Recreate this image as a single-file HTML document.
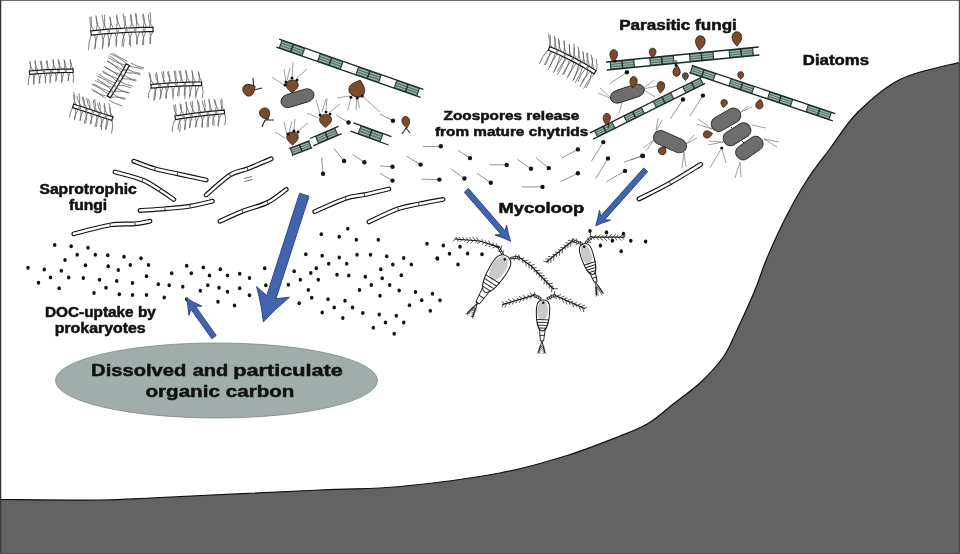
<!DOCTYPE html>
<html><head><meta charset="utf-8"><style>
html,body{margin:0;padding:0;background:#fff;}
svg{display:block;}
text{font-family:"Liberation Sans",sans-serif;font-weight:bold;fill:#111;stroke:#111;stroke-width:0.5px;}
</style></head><body>
<svg width="960" height="554" viewBox="0 0 960 554">
<rect x="0" y="0" width="960" height="554" fill="#fff"/>
<path d="M90.1,30.9 Q92.3,23.7 91.1,16.3 M93.8,30.5 Q89.1,24.5 89.6,17 M96.6,30.2 Q98.3,22.7 95.9,15.4 M100.7,29.8 Q95.9,24.5 95.9,17.2 M103.4,29.6 Q105.3,22.2 104.6,14.6 M106.4,29.3 Q102.3,22.6 102.1,14.8 M109.9,29 Q111.7,23.1 110,17 M113.5,28.8 Q110,23.2 109.8,16.6 M116.5,28.6 Q118,22.1 116.7,15.7 M120.6,28.3 Q117,22 116.6,14.8 M124.1,28.1 Q126.4,22.1 124.9,15.8 M127.1,28 Q123.1,21.2 123,13.3 M130.5,27.8 Q133.1,21.5 131,14.9 M133.9,27.7 Q129.9,21.7 130.5,14.4 M136.1,27.6 Q138,20.2 135.8,12.9 M139.6,27.5 Q135.1,21.4 135.5,13.8 M143.1,27.4 Q145.9,20.6 143.3,13.7 M146.6,27.4 Q143.2,21.3 142.4,14.4 M149.3,27.3 Q152.1,19.8 150,12 M153.1,27.3 Q147.9,21.9 148.5,14.4 M91.4,35.2 Q88.3,42.1 88.5,49.8 M94.6,34.8 Q96.9,41.7 94.9,48.8 M97.7,34.5 Q94.9,41.7 94.7,49.5 M101.8,34.1 Q104.7,41.5 102.4,49.1 M105.2,33.8 Q101.9,40.2 102.6,47.4 M107.8,33.6 Q109.7,40.5 108.2,47.5 M111.8,33.3 Q108.6,39.4 109.3,46.2 M115.2,33.1 Q117.9,39.9 116.2,47.1 M118.1,32.9 Q114.8,38.7 116.1,45.3 M122.5,32.6 Q125.6,39.8 123.2,47.3 M125.2,32.5 Q122.1,39.1 121.8,46.3 M128.4,32.3 Q131.2,39.2 130.6,46.7 M131.9,32.2 Q129.2,38.3 129.2,45 M135.5,32 Q137.8,38.1 136.5,44.5 M139.6,31.9 Q136.3,37.9 137.2,44.7 M142.2,31.9 Q144.5,38.3 143.6,45.2 M145.7,31.8 Q142.4,38 142.4,45 M149.8,31.7 Q151.4,37.6 150.3,43.7 M152.7,31.7 Q148.8,37.2 150,43.9" fill="none" stroke="#5e5e5e" stroke-width="0.8"/>
<polygon points="90.8,30.8 95.9,30.3 101.1,29.8 106.3,29.3 111.5,28.9 116.6,28.6 121.8,28.3 127,28 132.2,27.8 137.4,27.6 142.6,27.4 147.8,27.3 153,27.3 153,31.7 147.8,31.7 142.7,31.8 137.5,32 132.4,32.2 127.2,32.4 122.1,32.6 116.9,33 111.8,33.3 106.6,33.7 101.5,34.2 96.4,34.7 91.2,35.2" fill="#fff" stroke="#1a1a1a" stroke-width="1.2"/>
<ellipse cx="99.8" cy="32.1" rx="0.9" ry="1.1" transform="rotate(-5.3 99.8 32.1)" fill="#fff" stroke="#333" stroke-width="0.6"/>
<ellipse cx="108.7" cy="31.3" rx="0.9" ry="1.1" transform="rotate(-4.5 108.7 31.3)" fill="#fff" stroke="#333" stroke-width="0.6"/>
<ellipse cx="117.5" cy="30.7" rx="0.9" ry="1.1" transform="rotate(-3.7 117.5 30.7)" fill="#fff" stroke="#333" stroke-width="0.6"/>
<ellipse cx="126.4" cy="30.2" rx="0.9" ry="1.1" transform="rotate(-2.8 126.4 30.2)" fill="#fff" stroke="#333" stroke-width="0.6"/>
<ellipse cx="135.2" cy="29.8" rx="0.9" ry="1.1" transform="rotate(-2 135.2 29.8)" fill="#fff" stroke="#333" stroke-width="0.6"/>
<ellipse cx="144.1" cy="29.6" rx="0.9" ry="1.1" transform="rotate(-1.1 144.1 29.6)" fill="#fff" stroke="#333" stroke-width="0.6"/>
<path d="M29.9,71 Q31,66.7 30.1,62.3 M32.7,70.7 Q30,66.2 29.8,60.9 M35.4,70.5 Q36.4,65.5 35.2,60.6 M38.1,70.3 Q34.4,66.1 34.8,60.5 M41.5,70.1 Q42.6,65.2 41.2,60.5 M43.6,69.9 Q40.6,65.9 40,61 M46.8,69.8 Q48.5,64.9 46.9,60 M49.5,69.6 Q46.8,65.7 46.1,61 M52.7,69.5 Q54,64.4 53,59.3 M55.9,69.4 Q52.5,64.9 53.1,59.4 M58.7,69.3 Q60.8,64.6 58.7,59.9 M61.8,69.2 Q58.2,65 58.1,59.5 M64.2,69.2 Q66.1,64.2 63.9,59.4 M67.2,69.1 Q64,65.1 64.7,60.1 M70.4,69.1 Q72.3,64.1 70,59.2 M73.2,69.1 Q70.5,65.2 70.3,60.5 M30,74.4 Q27.9,79.5 28.2,85 M33,74.1 Q35.1,79.4 33.7,85 M35.5,73.9 Q32.9,78.5 33.4,83.8 M38.2,73.7 Q40.7,78.4 39,83.5 M41.4,73.5 Q38.8,78.4 39.8,83.9 M44.5,73.3 Q45.9,78.4 45.3,83.6 M47.2,73.1 Q44.4,77.3 45.6,82.1 M49.6,73 Q50.9,78.3 49.9,83.7 M52.5,72.9 Q49.6,77 50.1,82.1 M55.3,72.8 Q57.3,77.2 55.7,81.7 M58.2,72.7 Q55.3,76.3 55.9,80.9 M61,72.6 Q62.5,77.8 61.7,83.1 M64,72.6 Q62,76.9 61.8,81.8 M67.6,72.5 Q69.3,76.7 68.3,81.1 M70.2,72.5 Q67.8,76.4 68.1,81 M72.6,72.5 Q74.6,77.6 73,82.9" fill="none" stroke="#5e5e5e" stroke-width="0.8"/>
<polygon points="29.3,71 33,70.7 36.6,70.4 40.3,70.2 43.9,69.9 47.6,69.7 51.2,69.6 54.9,69.4 58.5,69.3 62.1,69.2 65.8,69.1 69.5,69.1 73.1,69.1 73.1,72.5 69.5,72.5 65.8,72.5 62.2,72.6 58.6,72.7 55,72.8 51.4,72.9 47.7,73.1 44.1,73.3 40.5,73.5 36.9,73.8 33.3,74.1 29.7,74.4" fill="#fff" stroke="#1a1a1a" stroke-width="1.2"/>
<ellipse cx="36.8" cy="72.1" rx="0.9" ry="0.8" transform="rotate(-4.2 36.8 72.1)" fill="#fff" stroke="#333" stroke-width="0.6"/>
<ellipse cx="44" cy="71.6" rx="0.9" ry="0.8" transform="rotate(-3.4 44 71.6)" fill="#fff" stroke="#333" stroke-width="0.6"/>
<ellipse cx="51.3" cy="71.3" rx="0.9" ry="0.8" transform="rotate(-2.5 51.3 71.3)" fill="#fff" stroke="#333" stroke-width="0.6"/>
<ellipse cx="58.5" cy="71" rx="0.9" ry="0.8" transform="rotate(-1.6 58.5 71)" fill="#fff" stroke="#333" stroke-width="0.6"/>
<ellipse cx="65.8" cy="70.8" rx="0.9" ry="0.8" transform="rotate(-0.7 65.8 70.8)" fill="#fff" stroke="#333" stroke-width="0.6"/>
<path d="M105.4,98.7 Q99.2,92.7 91.4,89.1 M107,96.3 Q99.3,94.8 92.8,90.4 M108.2,94.3 Q100.5,88.1 91.5,83.9 M109.9,91.8 Q101.3,88.7 93.5,83.9 M111.1,89.8 Q105,83.2 97,79.2 M112.5,87.6 Q103.4,85.2 95.2,80.4 M113.7,85.6 Q106.1,79.7 97.1,75.9 M115.2,83.2 Q106.3,80.2 99,74.2 M116.4,81.2 Q110.5,74.6 102.5,70.9 M117.9,78.6 Q110.2,76.5 103.2,72.5 M119.2,76.4 Q112.2,70.5 104.1,66.4 M120.3,74.4 Q112.1,72.1 105,67.3 M121.6,72.2 Q115.3,65.2 107,61 M123,69.7 Q114.6,66 107.1,60.6 M124.2,67.5 Q117.4,60.5 108.9,55.6 M125.4,65.3 Q116.1,62.7 107.9,57.7 M126.4,63.3 Q119.1,56.9 109.9,53.6 M127.6,61.2 Q119.6,57.9 112.5,53 M108.8,100.2 Q115.3,103.8 122.5,106.1 M110.8,97 Q118.1,96.6 125.2,98.3 M112.9,93.8 Q118.3,98.3 125.3,99.5 M114.5,91.1 Q121.6,91 128.5,92.5 M116.4,88.2 Q122.7,91.4 129.6,93 M118.2,85.2 Q124.9,84.8 130.9,87.9 M120.3,81.6 Q126.2,85.1 133,86.2 M122.1,78.6 Q129.1,78.4 135.7,81 M123.9,75.3 Q129.7,79.1 136.5,80.2 M125.4,72.7 Q133.2,72.4 140.6,74.6 M127.3,69.3 Q133.3,72.6 140.1,73.3 M128.8,66.5 Q135.9,66.9 142.7,69 M130.7,63 Q137,66.6 144.1,68" fill="none" stroke="#5e5e5e" stroke-width="0.8"/>
<polygon points="107.3,95.8 109,93.2 110.6,90.6 112.3,88 113.9,85.3 115.5,82.7 117.1,80 118.7,77.3 120.2,74.6 121.7,71.9 123.2,69.2 124.7,66.5 126.2,63.8 129.4,65.4 127.9,68.2 126.4,70.9 124.9,73.7 123.3,76.4 121.8,79.1 120.2,81.8 118.6,84.5 117,87.2 115.3,89.9 113.7,92.5 112,95.1 110.3,97.8" fill="#fff" stroke="#1a1a1a" stroke-width="1.2"/>
<ellipse cx="112.2" cy="91.5" rx="0.9" ry="0.9" transform="rotate(-57.8 112.2 91.5)" fill="#fff" stroke="#333" stroke-width="0.6"/>
<ellipse cx="115.4" cy="86.2" rx="0.9" ry="0.9" transform="rotate(-58.6 115.4 86.2)" fill="#fff" stroke="#333" stroke-width="0.6"/>
<ellipse cx="118.6" cy="80.9" rx="0.9" ry="0.9" transform="rotate(-59.5 118.6 80.9)" fill="#fff" stroke="#333" stroke-width="0.6"/>
<ellipse cx="121.8" cy="75.5" rx="0.9" ry="0.9" transform="rotate(-60.3 121.8 75.5)" fill="#fff" stroke="#333" stroke-width="0.6"/>
<ellipse cx="124.8" cy="70.1" rx="0.9" ry="0.9" transform="rotate(-61.1 124.8 70.1)" fill="#fff" stroke="#333" stroke-width="0.6"/>
<path d="M150.6,84.6 Q151.4,78.9 149.8,73.3 M153.4,84.4 Q149.2,79 149,72.2 M157.1,84 Q158.2,78.1 156.5,72.2 M159.5,83.8 Q155.3,79.7 155.4,73.8 M163.1,83.5 Q164.6,77.3 163.5,70.9 M165.6,83.4 Q161.6,78.1 161.8,71.6 M169.2,83.1 Q170.6,77 168.3,71.1 M171.8,83 Q168.6,78 167.5,72.1 M175.2,82.8 Q176.8,76.9 175.6,70.9 M178.1,82.6 Q174,77.2 174.1,70.4 M180.7,82.5 Q182.1,76.4 180.4,70.5 M183.3,82.4 Q180.1,76.8 178.9,70.6 M186.2,82.3 Q188,76.8 186.2,71.2 M189.6,82.2 Q186.2,76.4 185.1,69.8 M192.6,82.1 Q193.6,76 191.8,70 M195.5,82.1 Q192.2,77.2 192.2,71.4 M199,82 Q200,76.7 198.3,71.7 M201.9,82 Q198.8,77.3 198.5,71.6 M150.9,88.2 Q147.8,92.8 148.5,98.3 M154.6,87.9 Q156.8,94.1 154.2,100.3 M156.7,87.7 Q153.2,93.6 153.9,100.5 M160,87.4 Q162,93.5 159.7,99.5 M162.9,87.2 Q160.6,92.6 160.6,98.5 M165.9,86.9 Q166.8,92.6 165.6,98.1 M168.5,86.8 Q165.8,92.6 166.1,99.1 M171.8,86.6 Q173.9,93 173,99.6 M174.6,86.4 Q172.5,91.3 172.8,96.6 M178.1,86.2 Q180.2,91.2 178.9,96.5 M180.6,86.1 Q177.3,90.6 177.3,96.1 M184.1,86 Q186.1,92.5 184.7,99.1 M186.5,85.9 Q183.8,90.5 184.2,95.9 M189.5,85.8 Q191.1,92.2 189.3,98.5 M192.3,85.7 Q189.9,90.8 190,96.4 M195.4,85.7 Q196.4,91 195.2,96.3 M199.1,85.6 Q195.9,91.6 195.8,98.4 M202,85.6 Q204.2,91.9 202.2,98.2" fill="none" stroke="#5e5e5e" stroke-width="0.8"/>
<polygon points="150.9,84.6 155.1,84.2 159.4,83.8 163.6,83.5 167.8,83.2 172,82.9 176.2,82.7 180.5,82.5 184.7,82.3 188.9,82.2 193.1,82.1 197.4,82 201.6,82 201.6,85.6 197.4,85.6 193.2,85.7 189,85.8 184.8,85.9 180.6,86.1 176.4,86.3 172.2,86.5 168,86.8 163.8,87.1 159.6,87.4 155.5,87.8 151.3,88.2" fill="#fff" stroke="#1a1a1a" stroke-width="1.2"/>
<ellipse cx="159.5" cy="85.6" rx="0.9" ry="0.9" transform="rotate(-4.8 159.5 85.6)" fill="#fff" stroke="#333" stroke-width="0.6"/>
<ellipse cx="167.9" cy="85" rx="0.9" ry="0.9" transform="rotate(-3.9 167.9 85)" fill="#fff" stroke="#333" stroke-width="0.6"/>
<ellipse cx="176.3" cy="84.5" rx="0.9" ry="0.9" transform="rotate(-2.9 176.3 84.5)" fill="#fff" stroke="#333" stroke-width="0.6"/>
<ellipse cx="184.7" cy="84.1" rx="0.9" ry="0.9" transform="rotate(-2 184.7 84.1)" fill="#fff" stroke="#333" stroke-width="0.6"/>
<ellipse cx="193.2" cy="83.9" rx="0.9" ry="0.9" transform="rotate(-1.1 193.2 83.9)" fill="#fff" stroke="#333" stroke-width="0.6"/>
<path d="M73.9,104.2 Q76.1,97.8 73.6,91.6 M76.6,105 Q73.4,100.6 73.5,95.2 M79.3,106 Q80.3,99.5 78.9,93.1 M81.6,106.7 Q77.6,101.9 76.9,95.8 M83.8,107.4 Q85.6,101.7 82.8,96.4 M87,108.5 Q83.4,103.2 81.9,96.9 M89.5,109.3 Q91.2,104 88.4,99.1 M91.8,110 Q87.1,104.9 86.6,98 M94.4,110.9 Q96.5,105 94.6,99.1 M97,111.7 Q92.9,106.6 93.3,100 M100.1,112.8 Q100.9,107.1 99.2,101.5 M102.1,113.4 Q98.2,109.2 97.5,103.3 M104.6,114.3 Q105.9,108.6 104.3,103 M107.9,115.3 Q104.3,110.7 103.9,104.9 M110.4,116.1 Q110.7,109.5 108.9,103.1 M113,117 Q109.4,112.8 109.8,107.3 M72.6,107.5 Q70.1,112.1 69.6,117.3 M75,108.3 Q76.7,113.8 74.3,119.1 M78.2,109.4 Q74.9,114.2 74.4,120 M80.5,110.1 Q82.3,115.5 80.1,120.6 M83.3,111 Q79.4,115.2 80,120.8 M85.4,111.7 Q87.8,117.7 85.6,123.7 M88.2,112.6 Q84.8,117.7 84.2,123.8 M90.7,113.5 Q92.2,118.6 91.2,123.9 M93.6,114.4 Q90.8,119.1 90,124.5 M96.5,115.4 Q97.8,121.1 96.4,126.8 M98.8,116.1 Q95.4,121.1 95.1,127.1 M101,116.8 Q102.3,122.1 100.4,127.1 M104.2,117.9 Q100.5,123.4 101.4,130 M106.6,118.7 Q108,124 106.2,129.2 M108.8,119.4 Q105.5,124.1 105.3,129.9 M112.1,120.5 Q113.4,127.1 111.5,133.6" fill="none" stroke="#5e5e5e" stroke-width="0.8"/>
<polygon points="73.7,104.1 76.9,105.2 80.2,106.2 83.5,107.3 86.8,108.4 90,109.5 93.3,110.5 96.6,111.6 99.9,112.7 103.1,113.8 106.4,114.8 109.7,115.9 113,117 111.8,120.4 108.6,119.3 105.3,118.3 102,117.2 98.7,116.1 95.5,115 92.2,114 88.9,112.9 85.6,111.8 82.4,110.7 79.1,109.7 75.8,108.6 72.5,107.5" fill="#fff" stroke="#1a1a1a" stroke-width="1.2"/>
<ellipse cx="79.7" cy="108" rx="0.9" ry="0.9" transform="rotate(18.2 79.7 108)" fill="#fff" stroke="#333" stroke-width="0.6"/>
<ellipse cx="86.2" cy="110.1" rx="0.9" ry="0.9" transform="rotate(18.2 86.2 110.1)" fill="#fff" stroke="#333" stroke-width="0.6"/>
<ellipse cx="92.8" cy="112.2" rx="0.9" ry="0.9" transform="rotate(18.2 92.8 112.2)" fill="#fff" stroke="#333" stroke-width="0.6"/>
<ellipse cx="99.3" cy="114.4" rx="0.9" ry="0.9" transform="rotate(18.2 99.3 114.4)" fill="#fff" stroke="#333" stroke-width="0.6"/>
<ellipse cx="105.9" cy="116.6" rx="0.9" ry="0.9" transform="rotate(18.2 105.9 116.6)" fill="#fff" stroke="#333" stroke-width="0.6"/>
<path d="M175.2,116 Q176.7,110.2 175.5,104.3 M177.3,115.6 Q173.6,110.7 173.8,104.6 M180.5,115.1 Q182.8,109.7 180.8,104.1 M183.8,114.7 Q180,109.8 179.8,103.5 M186.2,114.3 Q187.5,108 186,101.7 M189.7,113.8 Q186.3,108.2 185.8,101.7 M191.9,113.5 Q193.6,107.3 192.2,100.9 M194.8,113.2 Q191.2,108 190.3,101.9 M198.5,112.7 Q200.4,107.3 198.5,101.9 M200.8,112.4 Q197.5,106.6 197.4,100 M204,112 Q206.5,105.8 204.2,99.4 M206.3,111.8 Q202.9,106.6 202.2,100.5 M209.8,111.4 Q211,104.9 208.8,98.6 M212.2,111.2 Q209.3,106.3 208.9,100.6 M215.5,110.9 Q217.4,105.3 214.8,100.1 M218.6,110.6 Q215.3,105.2 213.8,99 M221.2,110.4 Q222.9,104.4 221.7,98.3 M224.2,110.1 Q220.1,106 220.6,100.2 M175,119.7 Q172.1,125.3 172.1,131.8 M178.8,119.1 Q181.5,125.4 179.7,132.2 M181.4,118.7 Q177.6,123.5 178,129.7 M184.4,118.2 Q186.6,124 184.8,129.8 M186.9,117.9 Q184.4,123.7 184.6,130.1 M189.8,117.4 Q190.8,122.8 189.8,128.2 M192.4,117.1 Q189.6,122.2 189.5,128 M195.6,116.7 Q197,122.2 195.3,127.6 M198.9,116.3 Q195.9,121.2 196.1,126.9 M201.4,116 Q203.3,121.5 202.3,127.3 M204.6,115.6 Q201,121 201.9,127.5 M207.6,115.3 Q209.4,121.2 208.2,127.3 M210,115 Q206.2,120.6 207,127.2 M212.8,114.7 Q214.4,120.4 214,126.2 M215.4,114.5 Q212,119 212.5,124.6 M218.6,114.2 Q219.6,120.6 218.3,126.9 M221.4,114 Q218,119.2 217.7,125.4 M224.8,113.7 Q226.5,119.5 224.7,125.3" fill="none" stroke="#5e5e5e" stroke-width="0.8"/>
<polygon points="174.9,116 179,115.4 183.1,114.8 187.2,114.2 191.3,113.6 195.4,113.1 199.5,112.6 203.6,112.1 207.8,111.6 211.9,111.2 216,110.8 220.1,110.4 224.3,110.1 224.5,113.7 220.4,114 216.3,114.4 212.2,114.8 208.1,115.2 204,115.7 200,116.1 195.9,116.6 191.8,117.2 187.7,117.7 183.6,118.3 179.6,118.9 175.5,119.6" fill="#fff" stroke="#1a1a1a" stroke-width="1.2"/>
<ellipse cx="183.4" cy="116.5" rx="0.9" ry="0.9" transform="rotate(-8.4 183.4 116.5)" fill="#fff" stroke="#333" stroke-width="0.6"/>
<ellipse cx="191.5" cy="115.4" rx="0.9" ry="0.9" transform="rotate(-7.6 191.5 115.4)" fill="#fff" stroke="#333" stroke-width="0.6"/>
<ellipse cx="199.7" cy="114.4" rx="0.9" ry="0.9" transform="rotate(-6.8 199.7 114.4)" fill="#fff" stroke="#333" stroke-width="0.6"/>
<ellipse cx="207.9" cy="113.4" rx="0.9" ry="0.9" transform="rotate(-6.1 207.9 113.4)" fill="#fff" stroke="#333" stroke-width="0.6"/>
<ellipse cx="216.2" cy="112.6" rx="0.9" ry="0.9" transform="rotate(-5.3 216.2 112.6)" fill="#fff" stroke="#333" stroke-width="0.6"/>
<path d="M549.2,46.4 Q551.4,40.8 550,35 M551.5,47.4 Q548.9,40.6 548.5,33.4 M554.5,48.6 Q556,42.4 554.4,36.1 M556.5,49.5 Q554.6,44 555,38.2 M558.7,50.5 Q560.6,44.2 558.3,38.1 M561.5,51.7 Q558,46.4 558.8,40.1 M563.6,52.7 Q565.4,46.6 563.8,40.4 M566.2,53.9 Q563.6,47.9 564.3,41.4 M569.1,55.4 Q570.1,49.6 569.2,43.8 M571.5,56.6 Q568.4,51.2 569.4,45.1 M573.5,57.6 Q575,50.7 573.9,43.7 M575.6,58.7 Q573.1,53.2 574.2,47.3 M577.7,59.8 Q580,53.2 578.1,46.5 M580.7,61.4 Q578.6,55.9 578.7,49.9 M582.7,62.6 Q584.8,56.9 582.7,51.3 M585,63.9 Q582.9,58.2 583.3,52.2 M586.8,64.9 Q588.1,58.9 586.5,53 M589.4,66.5 Q587.4,59.7 587.6,52.6 M591.7,67.9 Q593.5,61.2 591.1,54.7 M593.7,69.2 Q592,63.3 592.1,57.2 M596.5,70.9 Q597.8,65 596.2,59.3 M547.8,50 Q542.3,56.2 539.3,63.9 M550.6,51.1 Q548.9,58.4 545.4,65 M552.5,51.9 Q546.6,57.7 544,65.4 M555.3,53.1 Q552.4,62 547.8,70.1 M557.2,53.9 Q551.9,60.2 549.4,68 M560.2,55.3 Q557.8,64.3 553.6,72.7 M562.7,56.5 Q557.4,63.9 553.7,72.3 M565.1,57.6 Q562.8,66.8 557.5,74.7 M566.7,58.4 Q561.2,64.5 557.2,71.7 M569.5,59.8 Q567.4,67.8 563.3,75.1 M571.3,60.7 Q566,67.1 562.5,74.5 M573.9,62.1 Q571.8,70.7 566.9,78.1 M576.2,63.3 Q571.2,69.3 568.3,76.5 M578.5,64.6 Q577.4,73.4 572.8,81.2 M580.9,65.9 Q575.9,72.3 573.4,80 M582.7,66.9 Q580.3,75.6 575,82.9 M585.5,68.6 Q580.3,74.5 577.9,82 M587.8,69.9 Q586.5,77.2 582.1,83.2 M590.1,71.4 Q583.2,77.8 579.9,86.6 M591.7,72.4 Q590.8,81 585.9,88.1 M594.1,73.9 Q587.6,80.3 583.6,88.6" fill="none" stroke="#5e5e5e" stroke-width="0.8"/>
<polygon points="549.7,46.6 553.7,48.3 557.7,50 561.7,51.8 565.6,53.7 569.5,55.6 573.4,57.5 577.3,59.6 581.1,61.7 584.9,63.8 588.6,66 592.3,68.3 596,70.6 594,73.8 590.3,71.5 586.7,69.3 583,67.1 579.2,65 575.5,62.9 571.7,60.9 567.9,59 564,57.1 560.1,55.3 556.2,53.5 552.3,51.8 548.3,50.2" fill="#fff" stroke="#1a1a1a" stroke-width="1.2"/>
<ellipse cx="557" cy="51.8" rx="0.9" ry="0.9" transform="rotate(23.8 557 51.8)" fill="#fff" stroke="#333" stroke-width="0.6"/>
<ellipse cx="564.8" cy="55.4" rx="0.9" ry="0.9" transform="rotate(25.6 564.8 55.4)" fill="#fff" stroke="#333" stroke-width="0.6"/>
<ellipse cx="572.6" cy="59.2" rx="0.9" ry="0.9" transform="rotate(27.4 572.6 59.2)" fill="#fff" stroke="#333" stroke-width="0.6"/>
<ellipse cx="580.2" cy="63.3" rx="0.9" ry="0.9" transform="rotate(29.1 580.2 63.3)" fill="#fff" stroke="#333" stroke-width="0.6"/>
<ellipse cx="587.6" cy="67.6" rx="0.9" ry="0.9" transform="rotate(30.9 587.6 67.6)" fill="#fff" stroke="#333" stroke-width="0.6"/>
<path d="M133.8,161.2 C137.3,162.5 147.7,166.7 155,168.8 C162.3,170.8 169,171.9 177.5,173.8 C186,175.6 201.5,179 206.2,180 M115,172 C119.6,173.3 135,177 142.5,180 C150,183 154.8,186.8 160,190 C165.2,193.2 171.5,197.9 173.8,199.5 M206.2,195 C210.2,191.7 223.1,179.4 230,175 C236.9,170.6 240.6,171.5 247.5,168.8 C254.4,166 267.3,160.4 271.2,158.8 M140,210.5 C144.2,210.2 156.7,209.5 165,208.8 C173.3,208 182.1,207.5 190,206.2 C197.9,205 208.8,202.1 212.5,201.2 M73.8,233.8 C79.8,232.3 99.8,226.7 110,225 C120.2,223.3 128.3,224.4 135,223.8 C141.7,223.1 147.5,221.7 150,221.2 M220,221.2 C223.8,219.6 234.6,214.4 242.5,211.2 C250.4,208.1 260.2,206.1 267.5,202.5 C274.8,198.9 283.1,191.7 286.2,189.5 M314.7,211.6 C319.9,209.4 337.3,201.2 345.6,198.4 C353.9,195.6 357.2,196.3 364.4,194.7 C371.6,193.1 384.7,189.9 388.8,189 M369,221.9 C373.8,219.7 389.7,211.7 398,208.8 C406.3,205.8 411.2,205.6 418.8,204 C426.2,202.4 439,200.2 443,199.4 M639,199 C644.2,196.3 659.7,188.8 670,183 C680.3,177.2 695.6,167.5 700.7,164.4" fill="none" stroke="#111" stroke-width="4.8" stroke-linecap="round" stroke-linejoin="round"/>
<path d="M133.8,161.2 C137.3,162.5 147.7,166.7 155,168.8 C162.3,170.8 169,171.9 177.5,173.8 C186,175.6 201.5,179 206.2,180 M115,172 C119.6,173.3 135,177 142.5,180 C150,183 154.8,186.8 160,190 C165.2,193.2 171.5,197.9 173.8,199.5 M206.2,195 C210.2,191.7 223.1,179.4 230,175 C236.9,170.6 240.6,171.5 247.5,168.8 C254.4,166 267.3,160.4 271.2,158.8 M140,210.5 C144.2,210.2 156.7,209.5 165,208.8 C173.3,208 182.1,207.5 190,206.2 C197.9,205 208.8,202.1 212.5,201.2 M73.8,233.8 C79.8,232.3 99.8,226.7 110,225 C120.2,223.3 128.3,224.4 135,223.8 C141.7,223.1 147.5,221.7 150,221.2 M220,221.2 C223.8,219.6 234.6,214.4 242.5,211.2 C250.4,208.1 260.2,206.1 267.5,202.5 C274.8,198.9 283.1,191.7 286.2,189.5 M314.7,211.6 C319.9,209.4 337.3,201.2 345.6,198.4 C353.9,195.6 357.2,196.3 364.4,194.7 C371.6,193.1 384.7,189.9 388.8,189 M369,221.9 C373.8,219.7 389.7,211.7 398,208.8 C406.3,205.8 411.2,205.6 418.8,204 C426.2,202.4 439,200.2 443,199.4 M639,199 C644.2,196.3 659.7,188.8 670,183 C680.3,177.2 695.6,167.5 700.7,164.4" fill="none" stroke="#fff" stroke-width="2.5" stroke-linecap="round" stroke-linejoin="round"/>
<path d="M154.6,170 L155.4,167.5 M177.2,175 L177.8,172.5 M142,181.2 L143,178.8 M159.3,191.1 L160.7,188.9 M230.7,176.1 L229.3,173.9 M248,170 L247,167.5 M165.1,210 L164.9,207.5 M190.2,207.5 L189.8,205 M110.2,226.3 L109.8,223.7 M135.1,225 L134.9,222.5 M243,212.5 L242,210 M268.1,203.7 L266.9,201.3 M346,199.6 L345.2,197.2 M364.7,196 L364.1,193.4 M398.4,210 L397.6,207.5 M419,205.3 L418.5,202.7 M670.6,184.1 L669.4,181.9" stroke="#111" stroke-width="0.8"/>
<path d="M244,178.5 L252,176.5 M244.5,181.5 L252.5,179.5" stroke="#333" stroke-width="0.7"/>
<g fill="#111"><ellipse cx="54.7" cy="245" rx="1.75" ry="2.05"/><ellipse cx="71.2" cy="246.3" rx="1.75" ry="2.05"/><ellipse cx="88" cy="247.8" rx="1.75" ry="2.05"/><ellipse cx="77.2" cy="254.7" rx="1.75" ry="2.05"/><ellipse cx="95.3" cy="254.7" rx="1.75" ry="2.05"/><ellipse cx="107.7" cy="255.3" rx="1.75" ry="2.05"/><ellipse cx="124" cy="256.7" rx="1.75" ry="2.05"/><ellipse cx="141" cy="258.3" rx="1.75" ry="2.05"/><ellipse cx="65" cy="260" rx="1.75" ry="2.05"/><ellipse cx="28" cy="267.8" rx="1.75" ry="2.05"/><ellipse cx="44.3" cy="269.5" rx="1.75" ry="2.05"/><ellipse cx="61.3" cy="270.8" rx="1.75" ry="2.05"/><ellipse cx="85.5" cy="265.3" rx="1.75" ry="2.05"/><ellipse cx="108.2" cy="266.3" rx="1.75" ry="2.05"/><ellipse cx="118.3" cy="270" rx="1.75" ry="2.05"/><ellipse cx="130.3" cy="265" rx="1.75" ry="2.05"/><ellipse cx="148.5" cy="265" rx="1.75" ry="2.05"/><ellipse cx="50.5" cy="277.5" rx="1.75" ry="2.05"/><ellipse cx="68.7" cy="277.5" rx="1.75" ry="2.05"/><ellipse cx="83.3" cy="278" rx="1.75" ry="2.05"/><ellipse cx="99.5" cy="279.7" rx="1.75" ry="2.05"/><ellipse cx="116.7" cy="281" rx="1.75" ry="2.05"/><ellipse cx="132.5" cy="283" rx="1.75" ry="2.05"/><ellipse cx="146.5" cy="276.3" rx="1.75" ry="2.05"/><ellipse cx="38.5" cy="282.7" rx="1.75" ry="2.05"/><ellipse cx="59.2" cy="288.3" rx="1.75" ry="2.05"/><ellipse cx="106" cy="287.8" rx="1.75" ry="2.05"/><ellipse cx="94" cy="293" rx="1.75" ry="2.05"/><ellipse cx="119.3" cy="294.3" rx="1.75" ry="2.05"/><ellipse cx="132.5" cy="295" rx="1.75" ry="2.05"/><ellipse cx="146.5" cy="295" rx="1.75" ry="2.05"/><ellipse cx="158.3" cy="284.2" rx="1.75" ry="2.05"/><ellipse cx="186.7" cy="265.8" rx="1.75" ry="2.05"/><ellipse cx="203.3" cy="267.5" rx="1.75" ry="2.05"/><ellipse cx="220.3" cy="269.2" rx="1.75" ry="2.05"/><ellipse cx="171.7" cy="273.3" rx="1.75" ry="2.05"/><ellipse cx="191.3" cy="273.3" rx="1.75" ry="2.05"/><ellipse cx="209.5" cy="275.5" rx="1.75" ry="2.05"/><ellipse cx="227.5" cy="275.5" rx="1.75" ry="2.05"/><ellipse cx="239.7" cy="273.8" rx="1.75" ry="2.05"/><ellipse cx="249.5" cy="278" rx="1.75" ry="2.05"/><ellipse cx="264.7" cy="268.3" rx="1.75" ry="2.05"/><ellipse cx="169.2" cy="285.3" rx="1.75" ry="2.05"/><ellipse cx="182.8" cy="286.7" rx="1.75" ry="2.05"/><ellipse cx="207.8" cy="285.3" rx="1.75" ry="2.05"/><ellipse cx="219" cy="287.8" rx="1.75" ry="2.05"/><ellipse cx="239.7" cy="288.3" rx="1.75" ry="2.05"/><ellipse cx="200.3" cy="290.8" rx="1.75" ry="2.05"/><ellipse cx="227.5" cy="291.7" rx="1.75" ry="2.05"/><ellipse cx="249.5" cy="295.3" rx="1.75" ry="2.05"/><ellipse cx="265.8" cy="285.3" rx="1.75" ry="2.05"/><ellipse cx="288.3" cy="284.7" rx="1.75" ry="2.05"/><ellipse cx="294.2" cy="271.3" rx="1.75" ry="2.05"/><ellipse cx="300.3" cy="279.7" rx="1.75" ry="2.05"/><ellipse cx="305.8" cy="254.2" rx="1.75" ry="2.05"/><ellipse cx="308.3" cy="290" rx="1.75" ry="2.05"/><ellipse cx="164.2" cy="297.5" rx="1.75" ry="2.05"/><ellipse cx="186.7" cy="299.2" rx="1.75" ry="2.05"/><ellipse cx="218" cy="301.7" rx="1.75" ry="2.05"/><ellipse cx="234.5" cy="305.5" rx="1.75" ry="2.05"/><ellipse cx="299.2" cy="303.3" rx="1.75" ry="2.05"/><ellipse cx="321.3" cy="234.2" rx="1.75" ry="2.05"/><ellipse cx="347.8" cy="228.8" rx="1.75" ry="2.05"/><ellipse cx="339.2" cy="236.7" rx="1.75" ry="2.05"/><ellipse cx="356.3" cy="239.7" rx="1.75" ry="2.05"/><ellipse cx="378.3" cy="239.7" rx="1.75" ry="2.05"/><ellipse cx="427" cy="243.8" rx="1.75" ry="2.05"/><ellipse cx="443.3" cy="245.5" rx="1.75" ry="2.05"/><ellipse cx="322.2" cy="255.8" rx="1.75" ry="2.05"/><ellipse cx="339.2" cy="257.5" rx="1.75" ry="2.05"/><ellipse cx="357" cy="254.7" rx="1.75" ry="2.05"/><ellipse cx="370.5" cy="254.7" rx="1.75" ry="2.05"/><ellipse cx="386.7" cy="256.3" rx="1.75" ry="2.05"/><ellipse cx="403.7" cy="258" rx="1.75" ry="2.05"/><ellipse cx="437.5" cy="258.8" rx="1.75" ry="2.05"/><ellipse cx="449.5" cy="253.7" rx="1.75" ry="2.05"/><ellipse cx="328.7" cy="263.7" rx="1.75" ry="2.05"/><ellipse cx="346.7" cy="263.7" rx="1.75" ry="2.05"/><ellipse cx="392.8" cy="264.5" rx="1.75" ry="2.05"/><ellipse cx="411.3" cy="264.5" rx="1.75" ry="2.05"/><ellipse cx="458" cy="264.5" rx="1.75" ry="2.05"/><ellipse cx="316.3" cy="268.3" rx="1.75" ry="2.05"/><ellipse cx="380.8" cy="269.2" rx="1.75" ry="2.05"/><ellipse cx="310.8" cy="273" rx="1.75" ry="2.05"/><ellipse cx="337" cy="274.7" rx="1.75" ry="2.05"/><ellipse cx="348.8" cy="275.5" rx="1.75" ry="2.05"/><ellipse cx="365.3" cy="276.7" rx="1.75" ry="2.05"/><ellipse cx="382.2" cy="278.3" rx="1.75" ry="2.05"/><ellipse cx="401.3" cy="275.3" rx="1.75" ry="2.05"/><ellipse cx="318.3" cy="279.7" rx="1.75" ry="2.05"/><ellipse cx="371.3" cy="285" rx="1.75" ry="2.05"/><ellipse cx="389.7" cy="285" rx="1.75" ry="2.05"/><ellipse cx="359.5" cy="290" rx="1.75" ry="2.05"/><ellipse cx="399.2" cy="290.5" rx="1.75" ry="2.05"/><ellipse cx="415.5" cy="292" rx="1.75" ry="2.05"/><ellipse cx="432.5" cy="293.8" rx="1.75" ry="2.05"/><ellipse cx="311.7" cy="297.7" rx="1.75" ry="2.05"/><ellipse cx="328" cy="299.2" rx="1.75" ry="2.05"/><ellipse cx="345" cy="300.8" rx="1.75" ry="2.05"/><ellipse cx="380" cy="295.8" rx="1.75" ry="2.05"/><ellipse cx="421.7" cy="300.3" rx="1.75" ry="2.05"/><ellipse cx="440" cy="300.3" rx="1.75" ry="2.05"/><ellipse cx="409.5" cy="305.3" rx="1.75" ry="2.05"/><ellipse cx="334.2" cy="307.5" rx="1.75" ry="2.05"/><ellipse cx="352.5" cy="307.5" rx="1.75" ry="2.05"/><ellipse cx="322.2" cy="312.5" rx="1.75" ry="2.05"/><ellipse cx="362.8" cy="313" rx="1.75" ry="2.05"/><ellipse cx="379.2" cy="314.5" rx="1.75" ry="2.05"/><ellipse cx="396.3" cy="315.8" rx="1.75" ry="2.05"/><ellipse cx="430.3" cy="310.8" rx="1.75" ry="2.05"/><ellipse cx="342.8" cy="318" rx="1.75" ry="2.05"/><ellipse cx="385.5" cy="322.5" rx="1.75" ry="2.05"/><ellipse cx="403.7" cy="322.5" rx="1.75" ry="2.05"/><ellipse cx="373.3" cy="327.8" rx="1.75" ry="2.05"/><ellipse cx="394.2" cy="333.7" rx="1.75" ry="2.05"/><ellipse cx="460" cy="246.8" rx="1.75" ry="2.05"/><ellipse cx="467.6" cy="253.5" rx="1.75" ry="2.05"/><ellipse cx="482" cy="254.3" rx="1.75" ry="2.05"/><ellipse cx="437.2" cy="258.3" rx="1.75" ry="2.05"/><ellipse cx="590" cy="231" rx="1.75" ry="2.05"/><ellipse cx="606.5" cy="232.4" rx="1.75" ry="2.05"/><ellipse cx="623.4" cy="233.8" rx="1.75" ry="2.05"/><ellipse cx="600.4" cy="245.6" rx="1.75" ry="2.05"/><ellipse cx="612.4" cy="240.8" rx="1.75" ry="2.05"/><ellipse cx="630.8" cy="240.7" rx="1.75" ry="2.05"/><ellipse cx="645.6" cy="241.6" rx="1.75" ry="2.05"/><ellipse cx="621.2" cy="251.2" rx="1.75" ry="2.05"/></g>
<polygon points="279.2,39.2 423.4,89.3 420.6,97.3 276.4,47.2" fill="#fff"/>
<path d="M282,40.2 L293.4,44.1 L290.6,52.2 L279.2,48.2Z M293.4,44.1 L304.8,48.1 L302,56.1 L290.6,52.2Z M320.3,53.5 L331.7,57.4 L328.9,65.5 L317.5,61.5Z M331.7,57.4 L343.1,61.4 L340.3,69.4 L328.9,65.5Z M358.6,66.8 L370,70.7 L367.2,78.7 L355.8,74.8Z M370,70.7 L381.3,74.7 L378.6,82.7 L367.2,78.7Z M396.9,80.1 L408.2,84 L405.4,92 L394.1,88.1Z M408.2,84 L419.6,88 L416.8,96 L405.4,92Z" fill="#55756a"/>
<path d="M280.6,46.7 L290.5,50.1 M281.4,44.4 L291.3,47.9 M282.2,42.2 L292,45.6 M292,50.6 L301.9,54.1 M292.8,48.4 L302.6,51.8 M293.6,46.2 L303.4,49.6 M318.9,60 L328.8,63.4 M319.7,57.7 L329.5,61.2 M320.4,55.5 L330.3,58.9 M330.3,63.9 L340.1,67.4 M331,61.7 L340.9,65.1 M331.8,59.5 L341.7,62.9 M357.2,73.3 L367,76.7 M357.9,71 L367.8,74.5 M358.7,68.8 L368.6,72.2 M368.5,77.2 L378.4,80.7 M369.3,75 L379.2,78.4 M370.1,72.7 L380,76.2 M395.4,86.6 L405.3,90 M396.2,84.3 L406.1,87.8 M397,82.1 L406.9,85.5 M406.8,90.5 L416.7,94 M407.6,88.3 L417.5,91.7 M408.4,86 L418.2,89.5" stroke="#b4c7bf" stroke-width="0.9" fill="none"/>
<path d="M282,40.2 L279.2,48.2 M293.4,44.1 L290.6,52.2 M293.4,44.1 L290.6,52.2 M304.8,48.1 L302,56.1 M320.3,53.5 L317.5,61.5 M331.7,57.4 L328.9,65.5 M331.7,57.4 L328.9,65.5 M343.1,61.4 L340.3,69.4 M358.6,66.8 L355.8,74.8 M370,70.7 L367.2,78.7 M370,70.7 L367.2,78.7 M381.3,74.7 L378.6,82.7 M396.9,80.1 L394.1,88.1 M408.2,84 L405.4,92 M408.2,84 L405.4,92 M419.6,88 L416.8,96" stroke="#1f3329" stroke-width="1" fill="none"/>
<path d="M279.2,39.2 L423.4,89.3 M276.4,47.2 L420.6,97.3" stroke="#1a2a23" stroke-width="1.3" fill="none"/>
<polygon points="606.1,62 758.6,47 759.4,55 606.9,70" fill="#fff"/>
<path d="M610.1,61.6 L621.9,60.5 L622.7,68.4 L610.9,69.6Z M621.9,60.5 L633.7,59.3 L634.5,67.3 L622.7,68.4Z M649.7,57.7 L661.5,56.6 L662.3,64.5 L650.5,65.7Z M661.5,56.6 L673.3,55.4 L674.1,63.4 L662.3,64.5Z M689.4,53.8 L701.2,52.7 L702,60.6 L690.2,61.8Z M701.2,52.7 L713,51.5 L713.8,59.5 L702,60.6Z M729.1,49.9 L740.8,48.8 L741.6,56.7 L729.8,57.9Z M740.8,48.8 L752.6,47.6 L753.4,55.6 L741.6,56.7Z" fill="#55756a"/>
<path d="M611.5,67.8 L621.7,66.8 M611.3,65.5 L621.5,64.5 M611.1,63.3 L621.3,62.3 M623.3,66.6 L633.5,65.6 M623.1,64.4 L633.3,63.4 M622.8,62.1 L633,61.1 M651.2,63.9 L661.3,62.9 M650.9,61.6 L661.1,60.6 M650.7,59.4 L660.9,58.4 M662.9,62.7 L673.1,61.7 M662.7,60.5 L672.9,59.5 M662.5,58.2 L672.7,57.2 M690.8,60 L701,59 M690.6,57.7 L700.8,56.7 M690.4,55.5 L700.6,54.5 M702.6,58.8 L712.8,57.8 M702.4,56.6 L712.6,55.6 M702.2,54.3 L712.4,53.3 M730.5,56.1 L740.7,55.1 M730.2,53.8 L740.4,52.8 M730,51.6 L740.2,50.6 M742.3,54.9 L752.5,53.9 M742,52.7 L752.2,51.7 M741.8,50.4 L752,49.4" stroke="#b4c7bf" stroke-width="0.9" fill="none"/>
<path d="M610.1,61.6 L610.9,69.6 M621.9,60.5 L622.7,68.4 M621.9,60.5 L622.7,68.4 M633.7,59.3 L634.5,67.3 M649.7,57.7 L650.5,65.7 M661.5,56.6 L662.3,64.5 M661.5,56.6 L662.3,64.5 M673.3,55.4 L674.1,63.4 M689.4,53.8 L690.2,61.8 M701.2,52.7 L702,60.6 M701.2,52.7 L702,60.6 M713,51.5 L713.8,59.5 M729.1,49.9 L729.8,57.9 M740.8,48.8 L741.6,56.7 M740.8,48.8 L741.6,56.7 M752.6,47.6 L753.4,55.6" stroke="#1f3329" stroke-width="1" fill="none"/>
<path d="M606.1,62 L758.6,47 M606.9,70 L759.4,55" stroke="#1a2a23" stroke-width="1.3" fill="none"/>
<polygon points="589.9,132.8 701.9,77 705.1,83.4 593.1,139.2" fill="#fff"/>
<path d="M594.4,130.5 L603.1,126.2 L606.3,132.6 L597.6,137Z M603.1,126.2 L611.9,121.8 L615.1,128.3 L606.3,132.6Z M623.8,115.9 L632.5,111.5 L635.7,118 L627,122.3Z M632.5,111.5 L641.3,107.2 L644.5,113.6 L635.7,118Z M653.2,101.2 L661.9,96.9 L665.2,103.3 L656.4,107.7Z M661.9,96.9 L670.7,92.5 L673.9,99 L665.2,103.3Z M682.6,86.6 L691.4,82.2 L694.6,88.7 L685.8,93Z M691.4,82.2 L700.1,77.9 L703.3,84.3 L694.6,88.7Z" fill="#55756a"/>
<path d="M597.6,135.2 L604.9,131.6 M596.7,133.4 L604,129.8 M595.8,131.6 L603.1,128 M606.3,130.9 L613.6,127.2 M605.4,129.1 L612.7,125.4 M604.5,127.3 L611.9,123.6 M627,120.6 L634.3,116.9 M626.1,118.8 L633.4,115.1 M625.2,117 L632.5,113.3 M635.8,116.2 L643.1,112.6 M634.9,114.4 L642.2,110.8 M634,112.6 L641.3,109 M656.4,105.9 L663.7,102.3 M655.5,104.1 L662.8,100.5 M654.6,102.3 L661.9,98.7 M665.2,101.6 L672.5,97.9 M664.3,99.7 L671.6,96.1 M663.4,97.9 L670.7,94.3 M685.8,91.3 L693.1,87.6 M684.9,89.4 L692.2,85.8 M684,87.6 L691.3,84 M694.6,86.9 L701.9,83.3 M693.7,85.1 L701,81.4 M692.8,83.3 L700.1,79.6" stroke="#b4c7bf" stroke-width="0.9" fill="none"/>
<path d="M594.4,130.5 L597.6,137 M603.1,126.2 L606.3,132.6 M603.1,126.2 L606.3,132.6 M611.9,121.8 L615.1,128.3 M623.8,115.9 L627,122.3 M632.5,111.5 L635.7,118 M632.5,111.5 L635.7,118 M641.3,107.2 L644.5,113.6 M653.2,101.2 L656.4,107.7 M661.9,96.9 L665.2,103.3 M661.9,96.9 L665.2,103.3 M670.7,92.5 L673.9,99 M682.6,86.6 L685.8,93 M691.4,82.2 L694.6,88.7 M691.4,82.2 L694.6,88.7 M700.1,77.9 L703.3,84.3" stroke="#1f3329" stroke-width="1" fill="none"/>
<path d="M589.9,132.8 L701.9,77 M593.1,139.2 L705.1,83.4" stroke="#1a2a23" stroke-width="1.3" fill="none"/>
<polygon points="691.7,65.4 835.2,113.6 832.8,120.8 689.3,72.6" fill="#fff"/>
<path d="M692.6,65.8 L704.1,69.6 L701.7,76.7 L690.3,72.9Z M704.1,69.6 L715.6,73.5 L713.2,80.6 L701.7,76.7Z M731.2,78.7 L742.7,82.6 L740.3,89.7 L728.9,85.8Z M742.7,82.6 L754.2,86.4 L751.8,93.5 L740.3,89.7Z M769.8,91.7 L781.3,95.6 L778.9,102.7 L767.5,98.8Z M781.3,95.6 L792.8,99.4 L790.4,106.5 L778.9,102.7Z M808.4,104.7 L819.9,108.5 L817.5,115.6 L806.1,111.8Z M819.9,108.5 L831.4,112.4 L829,119.5 L817.5,115.6Z" fill="#55756a"/>
<path d="M691.5,71.6 L701.5,74.9 M692.2,69.6 L702.2,72.9 M692.9,67.6 L702.8,70.9 M703,75.4 L713,78.8 M703.7,73.4 L713.6,76.8 M704.4,71.4 L714.3,74.8 M730.1,84.5 L740.1,87.9 M730.8,82.5 L740.8,85.9 M731.5,80.5 L741.4,83.9 M741.6,88.4 L751.6,91.7 M742.3,86.4 L752.2,89.7 M743,84.4 L752.9,87.7 M768.7,97.5 L778.7,100.8 M769.4,95.5 L779.4,98.9 M770.1,93.5 L780,96.9 M780.2,101.4 L790.2,104.7 M780.9,99.4 L790.8,102.7 M781.6,97.4 L791.5,100.7 M807.3,110.5 L817.3,113.8 M808,108.5 L818,111.8 M808.7,106.5 L818.6,109.8 M818.8,114.3 L828.8,117.7 M819.5,112.3 L829.4,115.7 M820.2,110.3 L830.1,113.7" stroke="#b4c7bf" stroke-width="0.9" fill="none"/>
<path d="M692.6,65.8 L690.3,72.9 M704.1,69.6 L701.7,76.7 M704.1,69.6 L701.7,76.7 M715.6,73.5 L713.2,80.6 M731.2,78.7 L728.9,85.8 M742.7,82.6 L740.3,89.7 M742.7,82.6 L740.3,89.7 M754.2,86.4 L751.8,93.5 M769.8,91.7 L767.5,98.8 M781.3,95.6 L778.9,102.7 M781.3,95.6 L778.9,102.7 M792.8,99.4 L790.4,106.5 M808.4,104.7 L806.1,111.8 M819.9,108.5 L817.5,115.6 M819.9,108.5 L817.5,115.6 M831.4,112.4 L829,119.5" stroke="#1f3329" stroke-width="1" fill="none"/>
<path d="M691.7,65.4 L835.2,113.6 M689.3,72.6 L832.8,120.8" stroke="#1a2a23" stroke-width="1.3" fill="none"/>
<polygon points="289.2,148.5 309.7,140.7 312.3,147.7 291.8,155.5" fill="#fff"/>
<path d="M290.1,148.1 L299.4,144.6 L302.1,151.6 L292.8,155.1Z M299.4,144.6 L308.7,141.1 L311.4,148.1 L302.1,151.6Z" fill="#55756a"/>
<path d="M292.9,153.3 L300.7,150.3 M292.2,151.4 L300,148.4 M291.4,149.4 L299.3,146.4 M302.2,149.8 L310.1,146.8 M301.5,147.8 L309.3,144.8 M300.8,145.9 L308.6,142.9" stroke="#b4c7bf" stroke-width="0.9" fill="none"/>
<path d="M290.1,148.1 L292.8,155.1 M299.4,144.6 L302.1,151.6 M299.4,144.6 L302.1,151.6 M308.7,141.1 L311.4,148.1" stroke="#1f3329" stroke-width="1" fill="none"/>
<path d="M289.2,148.5 L309.7,140.7 M291.8,155.5 L312.3,147.7" stroke="#1a2a23" stroke-width="1.3" fill="none"/>
<polygon points="309.9,138.5 338.4,126.3 341.6,133.7 313.1,145.9" fill="#fff"/>
<path d="M315.4,136.2 L325.1,132 L328.2,139.4 L318.6,143.5Z M325.1,132 L334.7,127.9 L337.9,135.3 L328.2,139.4Z" fill="#55756a"/>
<path d="M318.6,141.6 L326.8,138.1 M317.8,139.5 L325.9,136 M316.9,137.5 L325.1,134 M328.3,137.5 L336.5,133.9 M327.4,135.4 L335.6,131.9 M326.5,133.3 L334.7,129.8" stroke="#b4c7bf" stroke-width="0.9" fill="none"/>
<path d="M315.4,136.2 L318.6,143.5 M325.1,132 L328.2,139.4 M325.1,132 L328.2,139.4 M334.7,127.9 L337.9,135.3" stroke="#1f3329" stroke-width="1" fill="none"/>
<path d="M309.9,138.5 L338.4,126.3 M313.1,145.9 L341.6,133.7" stroke="#1a2a23" stroke-width="1.3" fill="none"/>
<polygon points="353.5,122.8 391.5,136.6 388.5,145 350.5,131.2" fill="#fff"/>
<path d="M361.1,125.5 L372.1,129.5 L369,138 L358,134Z M372.1,129.5 L383.1,133.5 L380,142 L369,138Z" fill="#55756a"/>
<path d="M359.4,132.4 L368.9,135.8 M360.3,130 L369.8,133.5 M361.1,127.6 L370.6,131.1 M370.4,136.4 L379.9,139.8 M371.3,134 L380.8,137.5 M372.1,131.6 L381.6,135.1" stroke="#b4c7bf" stroke-width="0.9" fill="none"/>
<path d="M361.1,125.5 L358,134 M372.1,129.5 L369,138 M372.1,129.5 L369,138 M383.1,133.5 L380,142" stroke="#1f3329" stroke-width="1" fill="none"/>
<path d="M353.5,122.8 L391.5,136.6 M350.5,131.2 L388.5,145" stroke="#1a2a23" stroke-width="1.3" fill="none"/>
<path d="M656,131 L658,118 M656,131 L662,120 M654,140 L643,148 M654,140 L646,151 M686,144 L694,135 M686,144 L697,138 M684,152 L682,168 M684,152 L686,167 M712,129 L698,119 M712,129 L697,124 M741,112 L748,106 M741,112 L752,107 M752,125 L766,128 M723,142 L709,141 M723,142 L708,145 M764,139 L779,142 M764,139 L777,147 M740,162 L735,178 M740,162 L741,177 M612,99 L600,88 M612,99 L598,93 M643,89 L654,80 M643,89 L658,86 M622,103 L619,113 M641,88 L655,97" stroke="#8a8a8a" stroke-width="0.8" fill="none"/>
<rect x="280.5" y="91.7" width="34" height="13" rx="7.5" ry="6.5" transform="rotate(-17 297.5 98.2)" fill="#6e6d6c" stroke="#2a2a2a" stroke-width="0.9"/>
<rect x="609.8" y="87.2" width="35" height="12.8" rx="7.7" ry="6.4" transform="rotate(-18 627.3 93.6)" fill="#6e6d6c" stroke="#2a2a2a" stroke-width="0.9"/>
<rect x="652.5" y="134.7" width="35" height="14" rx="7.7" ry="7" transform="rotate(24 670 141.7)" fill="#6e6d6c" stroke="#2a2a2a" stroke-width="0.9"/>
<path d="M731,127 L734,130 M742,141 L745,144" stroke="#222" stroke-width="1"/>
<rect x="710" y="112.5" width="32" height="14.5" rx="7" ry="7.2" transform="rotate(-30 726 119.7)" fill="#6e6d6c" stroke="#2a2a2a" stroke-width="0.9"/>
<rect x="722" y="127.1" width="30" height="14.5" rx="6.6" ry="7.2" transform="rotate(-32 737 134.3)" fill="#6e6d6c" stroke="#2a2a2a" stroke-width="0.9"/>
<rect x="734.4" y="140.8" width="30" height="14.5" rx="6.6" ry="7.2" transform="rotate(-35 749.4 148.1)" fill="#6e6d6c" stroke="#2a2a2a" stroke-width="0.9"/>
<path d="M392.9,120.8 L380,114 M440.8,146.3 L422.7,146.7 M470,158.1 L458.1,150.4 M420.6,164.6 L406.7,156.3 M392.5,166.7 L380,166 M506.7,165 L489.4,164.6 M531,168.8 L517.5,159.4 M548.8,168.1 L535.8,157.7 M577.9,149.4 L561.2,158.3 M439.4,179.6 L421.7,179.2 M464.4,178.5 L450.8,168.8 M490.8,182.7 L476.9,173.3 M392.5,180.6 L380,173.3 M542.5,186.9 L521.7,186.9 M577.9,173.3 L560.2,181.7 M348.5,122.5 L336.3,115.2 M344.1,161 L333.9,148.5 M364.4,162.3 L352.6,154.5 M323,173.7 L321.7,157.4 M603.3,142.1 L591.4,161.2 M608,158.4 L595.7,178.5 M625,170.9 L606.5,181.7 M642.3,155.8 L623.9,162.2 M683,99.5 L670.4,119 M702.9,95.6 L690,115.7 M626.9,72.3 L609.6,83.8 M643,156 L630,160" stroke="#808080" stroke-width="0.85" fill="none"/>
<g fill="#151515"><circle cx="392.9" cy="120.8" r="2.2"/><circle cx="440.8" cy="146.3" r="2.2"/><circle cx="470" cy="158.1" r="2.2"/><circle cx="420.6" cy="164.6" r="2.2"/><circle cx="392.5" cy="166.7" r="2.2"/><circle cx="506.7" cy="165" r="2.2"/><circle cx="531" cy="168.8" r="2.2"/><circle cx="548.8" cy="168.1" r="2.2"/><circle cx="577.9" cy="149.4" r="2.2"/><circle cx="439.4" cy="179.6" r="2.2"/><circle cx="464.4" cy="178.5" r="2.2"/><circle cx="490.8" cy="182.7" r="2.2"/><circle cx="392.5" cy="180.6" r="2.2"/><circle cx="542.5" cy="186.9" r="2.2"/><circle cx="577.9" cy="173.3" r="2.2"/><circle cx="348.5" cy="122.5" r="2.2"/><circle cx="344.1" cy="161" r="2.2"/><circle cx="364.4" cy="162.3" r="2.2"/><circle cx="323" cy="173.7" r="2.2"/><circle cx="603.3" cy="142.1" r="2.2"/><circle cx="608" cy="158.4" r="2.2"/><circle cx="625" cy="170.9" r="2.2"/><circle cx="642.3" cy="155.8" r="2.2"/><circle cx="683" cy="99.5" r="2.2"/><circle cx="702.9" cy="95.6" r="2.2"/><circle cx="626.9" cy="72.3" r="2.2"/><circle cx="643" cy="156" r="2.2"/></g>
<path d="M286,82 L284,69 M287,80 L290,68 M292,77 L293,62 M297,78 L307,69 M284,85 L272,77 M287,135 L284,122 M289,133 L292,121 M294,130 L295,119 M298,131 L308,123 M285,138 L275,132 M320,114 L316,100 M322,112 L326,99 M326,110 L327,98 M330,112 L340,104 M318,118 L307,113 M350.9,97.3 L347.7,110.6 M357.2,97.9 L355.9,110 M357.5,97.9 L359.5,108 M350,96 L337,98 M362.2,96 L380,112 M632,88 L637,95" stroke="#858585" stroke-width="0.8" fill="none"/>
<path d="M254,90 L262,88 M254,90 L253,78 M265,120 L262,127 M265,120 L274,120 M406,128 L402,134 M406,128 L410,133 M609,124 L608,128 M676,64 L676,60 M615,62 L614,60" stroke="#2b1d14" stroke-width="1.1" fill="none"/>
<path d="M0,6.5 C2.7,4.2 6,1.6 6,-1.3 C6,-4.9 3.3,-6.5 0,-6.5 C-3.3,-6.5 -6,-4.9 -6,-1.3 C-6,1.6 -2.7,4.2 0,6.5 Z" transform="translate(249.5 89.5) rotate(-120)" fill="#7b4b2e" stroke="#2e1c12" stroke-width="0.8"/>
<path d="M0,6.2 C2.2,4 5,1.6 5,-1.2 C5,-4.7 2.8,-6.2 0,-6.2 C-2.8,-6.2 -5,-4.7 -5,-1.2 C-5,1.6 -2.2,4 0,6.2 Z" transform="translate(265.2 114.1) rotate(-25)" fill="#7b4b2e" stroke="#2e1c12" stroke-width="0.8"/>
<path d="M0,6.5 C2.7,4.2 6,1.6 6,-1.3 C6,-4.9 3.3,-6.5 0,-6.5 C-3.3,-6.5 -6,-4.9 -6,-1.3 C-6,1.6 -2.7,4.2 0,6.5 Z" transform="translate(292.2 86.5) rotate(0)" fill="#7b4b2e" stroke="#2e1c12" stroke-width="0.8"/>
<path d="M0,6.5 C2.6,4.2 5.8,1.6 5.8,-1.3 C5.8,-4.9 3.2,-6.5 0,-6.5 C-3.2,-6.5 -5.8,-4.9 -5.8,-1.3 C-5.8,1.6 -2.6,4.2 0,6.5 Z" transform="translate(292.5 138.5) rotate(0)" fill="#7b4b2e" stroke="#2e1c12" stroke-width="0.8"/>
<path d="M0,6.5 C2.7,4.2 6,1.6 6,-1.3 C6,-4.9 3.3,-6.5 0,-6.5 C-3.3,-6.5 -6,-4.9 -6,-1.3 C-6,1.6 -2.7,4.2 0,6.5 Z" transform="translate(325.5 121) rotate(0)" fill="#7b4b2e" stroke="#2e1c12" stroke-width="0.8"/>
<path d="M0,8.6 C3.6,5.6 8,2.1 8,-1.7 C8,-6.4 4.4,-8.6 0,-8.6 C-4.4,-8.6 -8,-6.4 -8,-1.7 C-8,2.1 -3.6,5.6 0,8.6 Z" transform="translate(357.5 88.3) rotate(200)" fill="#7b4b2e" stroke="#2e1c12" stroke-width="0.8"/>
<path d="M0,5.8 C1.7,3.8 3.8,1.4 3.8,-1.2 C3.8,-4.3 2.1,-5.8 0,-5.8 C-2.1,-5.8 -3.8,-4.3 -3.8,-1.2 C-3.8,1.4 -1.7,3.8 0,5.8 Z" transform="translate(406 122.3) rotate(-10)" fill="#7b4b2e" stroke="#2e1c12" stroke-width="0.8"/>
<path d="M0,6 C1.7,3.9 3.8,1.5 3.8,-1.2 C3.8,-4.5 2.1,-6 0,-6 C-2.1,-6 -3.8,-4.5 -3.8,-1.2 C-3.8,1.5 -1.7,3.9 0,6 Z" transform="translate(613.6 55.7) rotate(5)" fill="#7b4b2e" stroke="#2e1c12" stroke-width="0.8"/>
<path d="M0,4.8 C1.5,3.1 3.4,1.2 3.4,-1 C3.4,-3.6 1.9,-4.8 0,-4.8 C-1.9,-4.8 -3.4,-3.6 -3.4,-1 C-3.4,1.2 -1.5,3.1 0,4.8 Z" transform="translate(652.6 53) rotate(0)" fill="#7b4b2e" stroke="#2e1c12" stroke-width="0.8"/>
<path d="M0,7.2 C2.2,4.7 4.8,1.8 4.8,-1.4 C4.8,-5.4 2.6,-7.2 0,-7.2 C-2.6,-7.2 -4.8,-5.4 -4.8,-1.4 C-4.8,1.8 -2.2,4.7 0,7.2 Z" transform="translate(700.2 43) rotate(5)" fill="#7b4b2e" stroke="#2e1c12" stroke-width="0.8"/>
<path d="M0,7.2 C2.2,4.7 4.8,1.8 4.8,-1.4 C4.8,-5.4 2.6,-7.2 0,-7.2 C-2.6,-7.2 -4.8,-5.4 -4.8,-1.4 C-4.8,1.8 -2.2,4.7 0,7.2 Z" transform="translate(736.9 39) rotate(0)" fill="#7b4b2e" stroke="#2e1c12" stroke-width="0.8"/>
<path d="M0,5.5 C1.6,3.6 3.6,1.4 3.6,-1.1 C3.6,-4.1 2,-5.5 0,-5.5 C-2,-5.5 -3.6,-4.1 -3.6,-1.1 C-3.6,1.4 -1.6,3.6 0,5.5 Z" transform="translate(676.7 70.8) rotate(185)" fill="#7b4b2e" stroke="#2e1c12" stroke-width="0.8"/>
<path d="M0,5.8 C1.6,3.8 3.6,1.4 3.6,-1.2 C3.6,-4.3 2,-5.8 0,-5.8 C-2,-5.8 -3.6,-4.3 -3.6,-1.2 C-3.6,1.4 -1.6,3.8 0,5.8 Z" transform="translate(633.4 82.4) rotate(8)" fill="#7b4b2e" stroke="#2e1c12" stroke-width="0.8"/>
<path d="M0,5.8 C1.7,3.8 3.8,1.4 3.8,-1.2 C3.8,-4.3 2.1,-5.8 0,-5.8 C-2.1,-5.8 -3.8,-4.3 -3.8,-1.2 C-3.8,1.4 -1.7,3.8 0,5.8 Z" transform="translate(660.8 87.4) rotate(5)" fill="#7b4b2e" stroke="#2e1c12" stroke-width="0.8"/>
<path d="M0,5.8 C1.6,3.8 3.6,1.4 3.6,-1.2 C3.6,-4.3 2,-5.8 0,-5.8 C-2,-5.8 -3.6,-4.3 -3.6,-1.2 C-3.6,1.4 -1.6,3.8 0,5.8 Z" transform="translate(606.7 119.2) rotate(5)" fill="#7b4b2e" stroke="#2e1c12" stroke-width="0.8"/>
<path d="M0,3.8 C1.4,2.5 3,0.9 3,-0.8 C3,-2.8 1.7,-3.8 0,-3.8 C-1.7,-3.8 -3,-2.8 -3,-0.8 C-3,0.9 -1.4,2.5 0,3.8 Z" transform="translate(685.4 76.6) rotate(0)" fill="#5e5238" stroke="#2e1c12" stroke-width="0.8"/>
<path d="M0,3.8 C1.4,2.5 3,0.9 3,-0.8 C3,-2.8 1.7,-3.8 0,-3.8 C-1.7,-3.8 -3,-2.8 -3,-0.8 C-3,0.9 -1.4,2.5 0,3.8 Z" transform="translate(740.7 75.5) rotate(0)" fill="#7b4b2e" stroke="#2e1c12" stroke-width="0.8"/>
<path d="M0,4 C1.4,2.6 3.2,1 3.2,-0.8 C3.2,-3 1.8,-4 0,-4 C-1.8,-4 -3.2,-3 -3.2,-0.8 C-3.2,1 -1.4,2.6 0,4 Z" transform="translate(724 103.6) rotate(10)" fill="#7b4b2e" stroke="#2e1c12" stroke-width="0.8"/>
<path d="M0,4.6 C1.6,3 3.6,1.1 3.6,-0.9 C3.6,-3.4 2,-4.6 0,-4.6 C-2,-4.6 -3.6,-3.4 -3.6,-0.9 C-3.6,1.1 -1.6,3 0,4.6 Z" transform="translate(708 134.3) rotate(-100)" fill="#7b4b2e" stroke="#2e1c12" stroke-width="0.8"/>
<path d="M0,4.8 C1.6,3.1 3.6,1.2 3.6,-1 C3.6,-3.6 2,-4.8 0,-4.8 C-2,-4.8 -3.6,-3.6 -3.6,-1 C-3.6,1.2 -1.6,3.1 0,4.8 Z" transform="translate(759.6 104) rotate(190)" fill="#7b4b2e" stroke="#2e1c12" stroke-width="0.8"/>
<path d="M0,4.4 C1.7,2.9 3.8,1.1 3.8,-0.9 C3.8,-3.3 2.1,-4.4 0,-4.4 C-2.1,-4.4 -3.8,-3.3 -3.8,-0.9 C-3.8,1.1 -1.7,2.9 0,4.4 Z" transform="translate(662.6 150.3) rotate(210)" fill="#7b4b2e" stroke="#2e1c12" stroke-width="0.8"/>
<g fill="#111"><circle cx="286" cy="82" r="1.5"/><circle cx="292" cy="78" r="1.5"/><circle cx="297" cy="80" r="1.5"/><circle cx="285" cy="85" r="1.5"/><circle cx="288" cy="134" r="1.5"/><circle cx="294" cy="131" r="1.5"/><circle cx="298" cy="132" r="1.5"/><circle cx="320" cy="115" r="1.5"/><circle cx="326" cy="112" r="1.5"/><circle cx="330" cy="114" r="1.5"/><circle cx="350.9" cy="97.3" r="1.5"/><circle cx="357.2" cy="97.9" r="1.5"/><circle cx="362.2" cy="96" r="1.5"/><circle cx="721.7" cy="148.1" r="1.5"/><circle cx="615" cy="61" r="1.5"/><circle cx="676" cy="65" r="1.5"/></g>
<path d="M721,149 L710,168 M722,149 L726,163" stroke="#858585" stroke-width="0.8"/>
<path d="M503,255 L498.7,247.1 L480,241 L454.5,239" stroke="#111" stroke-width="1.2" fill="none"/><path d="M502.5,254 L503.7,250.5 M501.4,252 L497.5,251.1 M500.3,250.1 L501.9,245.6 M499.2,248.1 L495.6,247.2 M497.8,246.8 L496.2,243.3 M495.9,246.2 L492.4,248.2 M494,245.6 L492.7,242.7 M492.2,245 L488.8,246.9 M490.3,244.4 L488.6,240.6 M488.4,243.7 L484.6,246 M486.5,243.1 L485.3,240.4 M484.7,242.5 L481.7,244.2 M482.8,241.9 L481.6,239.2 M480.9,241.3 L477.1,243.5 M479.1,240.9 L476.5,237.6 M477.3,240.8 L475.2,242.8 M475.4,240.6 L472.5,236.8 M473.6,240.5 L470.2,243.8 M471.8,240.4 L469.3,237.1 M470,240.2 L467,243 M468.2,240.1 L466.2,237.6 M466.3,239.9 L464.3,241.9 M464.5,239.8 L462.1,236.7 M462.7,239.6 L460.6,241.7 M460.9,239.5 L458.9,237 M459.1,239.4 L456.7,241.6 M457.2,239.2 L455.5,236.9 M455.4,239.1 L452.7,241.7" stroke="#222" stroke-width="0.75" fill="none"/>
<path d="M511.3,258 L518.6,257.1 L531.2,266 L553.8,289.5" stroke="#111" stroke-width="1.2" fill="none"/><path d="M512.2,257.9 L515.1,260.4 M514,257.7 L516.4,254.3 M515.9,257.4 L519,260.2 M517.7,257.2 L519.5,254.7 M519.4,257.7 L519.7,260.5 M521,258.8 L524.5,258 M522.5,259.9 L522.9,263.2 M524.1,261 L528.5,260 M525.7,262.1 L526.2,266.3 M527.3,263.2 L531.2,262.3 M528.8,264.3 L529.3,268.3 M530.4,265.4 L534.5,264.5 M531.8,266.7 L531.6,269.8 M533.1,268 L536.8,267.8 M534.3,269.3 L534.1,272.4 M535.6,270.6 L540.2,270.4 M536.9,271.9 L536.6,274.8 M538.1,273.2 L542.6,273 M539.4,274.5 L539.1,277.5 M540.6,275.8 L544.8,275.7 M541.9,277.1 L541.6,280.6 M543.1,278.4 L546.8,278.3 M544.4,279.7 L544.1,284.2 M545.6,281 L548.5,280.9 M546.9,282.3 L546.7,285.3 M548.1,283.6 L552.8,283.5 M549.4,284.9 L549.1,288.8 M550.7,286.2 L553.7,286.1 M551.9,287.5 L551.6,292.3 M553.2,288.8 L557.9,288.7" stroke="#222" stroke-width="0.75" fill="none"/>
<path d="M503,255 L498.7,247.1" stroke="#1a1a1a" stroke-width="2.6" stroke-linecap="round"/><path d="M503,255 L498.7,247.1" stroke="#fff" stroke-width="1.1" stroke-dasharray="1.4 0.8"/>
<path d="M511.3,258 L518.6,257.1" stroke="#1a1a1a" stroke-width="2.6" stroke-linecap="round"/><path d="M511.3,258 L518.6,257.1" stroke="#fff" stroke-width="1.1" stroke-dasharray="1.4 0.8"/>
<g transform="translate(506.8 256.2) rotate(32)"><path d="M0,55 L-3.2,70 M0,55 L3.2,70" stroke="#1a1a1a" stroke-width="0.9" fill="none"/><path d="M-1.1,60.2 L-2.6,62.5 M-1.1,60.2 L0.4,62.5 M-1.6,62.4 L-3.1,64.5 M-1.6,62.4 L-0.1,64.5 M-2,64.5 L-3.5,66.7 M-2,64.5 L-0.5,66.7 M-2.5,66.5 L-4,68.8 M-2.5,66.5 L-1,68.8 M-2.9,68.7 L-4.4,70.9 M-2.9,68.7 L-1.4,70.9 M1.1,60.2 L-0.4,62.5 M1.1,60.2 L2.6,62.5 M1.6,62.4 L0.1,64.5 M1.6,62.4 L3.1,64.5 M2,64.5 L0.5,66.7 M2,64.5 L3.5,66.7 M2.5,66.5 L1,68.8 M2.5,66.5 L4,68.8 M2.9,68.7 L1.4,70.9 M2.9,68.7 L4.4,70.9" stroke="#222" stroke-width="0.6" fill="none"/><path d="M-3.9,40 L3.9,40 L2.1,55 L-2.1,55 Z M-3.1,47.9 L3.1,47.9" fill="#fff" stroke="#1a1a1a" stroke-width="0.9"/><path d="M0,0 C8.8,0 9.1,8.4 8.8,17.6 C8.1,33.6 4.4,42 0,42 C-4.4,42 -8.1,33.6 -8.8,17.6 C-9.1,8.4 -8.8,0 0,0 Z" fill="#fff" stroke="#1a1a1a" stroke-width="1"/><ellipse cx="-0.7" cy="14.7" rx="7.2" ry="13.4" fill="#c9c9c9"/><path d="M-8.3,26.9 L8.3,26.9 M-7.6,30.7 L7.6,30.7 M-6.7,34.4 L6.7,34.4 M-5.2,38.2 L5.2,38.2" stroke="#1a1a1a" stroke-width="0.9"/><circle cx="0" cy="3.8" r="1.3" fill="#111"/></g>
<path d="M582,244 L573,240.5 L546.1,262.2" stroke="#111" stroke-width="1.2" fill="none"/><path d="M581.1,243.7 L580,240.7 M579.3,242.9 L575.5,244.8 M577.5,242.2 L576,238.4 M575.7,241.6 L572.3,243.3 M573.9,240.8 L572.7,237.8 M572.3,241.1 L567.9,240.4 M570.9,242.2 L570.6,246.7 M569.5,243.4 L565.6,242.7 M568,244.5 L567.8,248.3 M566.6,245.6 L563.4,245.1 M565.2,246.8 L565.1,249.6 M563.8,247.9 L560.3,247.4 M562.4,249.1 L562.2,253.1 M561,250.2 L558,249.7 M559.5,251.3 L559.3,255.8 M558.1,252.5 L554.9,252 M556.7,253.6 L556.5,256.9 M555.3,254.8 L552.4,254.3 M553.9,255.9 L553.6,260.7 M552.5,257.1 L548.2,256.4 M551.1,258.2 L550.8,262.8 M549.6,259.3 L545.6,258.7 M548.2,260.5 L548.1,263.4 M546.8,261.6 L543.4,261.1" stroke="#222" stroke-width="0.75" fill="none"/>
<path d="M586,242.6 L591.4,237.2 L624.6,237.2" stroke="#111" stroke-width="1.2" fill="none"/><path d="M586.7,241.9 L591.4,242.2 M588,240.6 L587.9,237.5 M589.4,239.2 L592.2,239.4 M590.7,237.9 L590.5,233 M592.3,237.2 L594.5,239.6 M594.2,237.2 L596.2,234.9 M596,237.2 L598.8,240.3 M597.9,237.2 L600.2,234.6 M599.7,237.2 L602.8,240.6 M601.5,237.2 L603.7,234.8 M603.4,237.2 L606.6,240.7 M605.2,237.2 L607.6,234.6 M607.1,237.2 L609.8,240.2 M608.9,237.2 L612.1,233.7 M610.8,237.2 L613.6,240.3 M612.6,237.2 L615.7,233.7 M614.5,237.2 L617.3,240.4 M616.3,237.2 L618.3,235 M618.1,237.2 L621.2,240.6 M620,237.2 L622.7,234.2 M621.8,237.2 L624.1,239.8 M623.7,237.2 L625.8,234.8" stroke="#222" stroke-width="0.75" fill="none"/>
<path d="M582,244 L573,240.5" stroke="#1a1a1a" stroke-width="2.6" stroke-linecap="round"/><path d="M582,244 L573,240.5" stroke="#fff" stroke-width="1.1" stroke-dasharray="1.4 0.8"/>
<path d="M586,242.6 L591.4,237.2" stroke="#1a1a1a" stroke-width="2.6" stroke-linecap="round"/><path d="M586,242.6 L591.4,237.2" stroke="#fff" stroke-width="1.1" stroke-dasharray="1.4 0.8"/>
<g transform="translate(583.3 243.9) rotate(-18)"><path d="M0,40 L-3.2,53 M0,40 L3.2,53" stroke="#1a1a1a" stroke-width="0.9" fill="none"/><path d="M-1.1,44.5 L-2.6,46.8 M-1.1,44.5 L0.4,46.8 M-1.6,46.4 L-3.1,48.6 M-1.6,46.4 L-0.1,48.6 M-2,48.2 L-3.5,50.4 M-2,48.2 L-0.5,50.4 M-2.5,50 L-4,52.2 M-2.5,50 L-1,52.2 M-2.9,51.8 L-4.4,54 M-2.9,51.8 L-1.4,54 M1.1,44.5 L-0.4,46.8 M1.1,44.5 L2.6,46.8 M1.6,46.4 L0.1,48.6 M1.6,46.4 L3.1,48.6 M2,48.2 L0.5,50.4 M2,48.2 L3.5,50.4 M2.5,50 L1,52.2 M2.5,50 L4,52.2 M2.9,51.8 L1.4,54 M2.9,51.8 L4.4,54" stroke="#222" stroke-width="0.6" fill="none"/><path d="M-2.8,30 L2.8,30 L1.5,40 L-1.5,40 Z M-2.2,35.6 L2.2,35.6" fill="#fff" stroke="#1a1a1a" stroke-width="0.9"/><path d="M0,0 C6.2,0 6.5,6.4 6.2,13.4 C5.8,25.6 3.1,32 0,32 C-3.1,32 -5.8,25.6 -6.2,13.4 C-6.5,6.4 -6.2,0 0,0 Z" fill="#fff" stroke="#1a1a1a" stroke-width="1"/><ellipse cx="-0.5" cy="11.2" rx="5.1" ry="10.2" fill="#c9c9c9"/><path d="M-5.9,20.5 L5.9,20.5 M-5.5,23.4 L5.5,23.4 M-4.8,26.2 L4.8,26.2 M-3.7,29.1 L3.7,29.1" stroke="#1a1a1a" stroke-width="0.9"/><circle cx="0" cy="2.9" r="1.3" fill="#111"/></g>
<path d="M540.3,298.5 L534.2,295.1 L502.4,304.6" stroke="#111" stroke-width="1.2" fill="none"/><path d="M539.3,297.9 L538.6,295.2 M537.2,296.8 L534.4,297.8 M535.2,295.7 L534.4,292.1 M533.3,295.4 L529.7,293.2 M531.6,295.9 L530.2,298.7 M529.8,296.4 L527.2,294.8 M528,296.9 L526.6,299.9 M526.2,297.5 L522.5,295.2 M524.5,298 L523.1,300.8 M522.7,298.5 L519,296.3 M521,299.1 L519.2,302.8 M519.2,299.6 L516.5,298 M517.4,300.1 L515.7,303.6 M515.6,300.6 L512.5,298.7 M513.9,301.2 L512.3,304.5 M512.1,301.7 L508,299.2 M510.4,302.2 L509.1,304.9 M508.6,302.8 L506.1,301.3 M506.8,303.3 L504.8,307.5 M505,303.8 L501.9,301.9 M503.3,304.3 L501.9,307.3" stroke="#222" stroke-width="0.75" fill="none"/>
<path d="M547.8,298.5 L554.5,295.1 L585,308.7" stroke="#111" stroke-width="1.2" fill="none"/><path d="M548.6,298.1 L551.4,299.1 M550.3,297.2 L551.2,294.1 M552,296.4 L555.2,297.6 M553.7,295.5 L554.9,291 M555.3,295.5 L556.5,299.1 M557,296.2 L561,294.5 M558.7,297 L559.7,299.9 M560.4,297.7 L564,296.2 M562.1,298.5 L563.5,302.8 M563.8,299.3 L567.4,297.7 M565.5,300 L567,304.5 M567.2,300.8 L571.4,298.9 M568.9,301.5 L570,304.9 M570.6,302.3 L573.2,301.1 M572.3,303 L573.6,307.2 M574,303.8 L576.8,302.5 M575.7,304.5 L576.6,307.3 M577.4,305.3 L581.3,303.6 M579.1,306.1 L580.5,310.4 M580.8,306.8 L584.9,305 M582.5,307.6 L583.9,312.1 M584.2,308.3 L587.1,307" stroke="#222" stroke-width="0.75" fill="none"/>
<path d="M540.3,298.5 L534.2,295.1" stroke="#1a1a1a" stroke-width="2.6" stroke-linecap="round"/><path d="M540.3,298.5 L534.2,295.1" stroke="#fff" stroke-width="1.1" stroke-dasharray="1.4 0.8"/>
<path d="M547.8,298.5 L554.5,295.1" stroke="#1a1a1a" stroke-width="2.6" stroke-linecap="round"/><path d="M547.8,298.5 L554.5,295.1" stroke="#fff" stroke-width="1.1" stroke-dasharray="1.4 0.8"/>
<g transform="translate(543.4 299.9) rotate(2)"><path d="M0,41 L-3.2,53 M0,41 L3.2,53" stroke="#1a1a1a" stroke-width="0.9" fill="none"/><path d="M-1.1,45.2 L-2.6,47.4 M-1.1,45.2 L0.4,47.4 M-1.6,46.9 L-3.1,49.1 M-1.6,46.9 L-0.1,49.1 M-2,48.6 L-3.5,50.8 M-2,48.6 L-0.5,50.8 M-2.5,50.2 L-4,52.4 M-2.5,50.2 L-1,52.4 M-2.9,51.9 L-4.4,54.1 M-2.9,51.9 L-1.4,54.1 M1.1,45.2 L-0.4,47.4 M1.1,45.2 L2.6,47.4 M1.6,46.9 L0.1,49.1 M1.6,46.9 L3.1,49.1 M2,48.6 L0.5,50.8 M2,48.6 L3.5,50.8 M2.5,50.2 L1,52.4 M2.5,50.2 L4,52.4 M2.9,51.9 L1.4,54.1 M2.9,51.9 L4.4,54.1" stroke="#222" stroke-width="0.6" fill="none"/><path d="M-2.9,29 L2.9,29 L1.6,41 L-1.6,41 Z M-2.4,35.5 L2.4,35.5" fill="#fff" stroke="#1a1a1a" stroke-width="0.9"/><path d="M0,0 C6.6,0 6.9,6.2 6.6,13 C6.1,24.8 3.3,31 0,31 C-3.3,31 -6.1,24.8 -6.6,13 C-6.9,6.2 -6.6,0 0,0 Z" fill="#fff" stroke="#1a1a1a" stroke-width="1"/><ellipse cx="-0.5" cy="10.8" rx="5.4" ry="9.9" fill="#c9c9c9"/><path d="M-6.3,19.8 L6.3,19.8 M-5.8,22.6 L5.8,22.6 M-5,25.4 L5,25.4 M-3.9,28.2 L3.9,28.2" stroke="#1a1a1a" stroke-width="0.9"/><circle cx="0" cy="2.8" r="1.3" fill="#111"/></g>
<path d="M961,62 C951,64.8 918.2,70.7 901,79 C883.8,87.3 870,100.2 858,112 C846,123.8 837.5,138.7 829,150 C820.5,161.3 814,169.2 807,180 C800,190.8 793.7,202 787,215 C780.3,228 772.3,245.5 767,258 C761.7,270.5 760,278 755,290 C750,302 742.2,319 737,330 C731.8,341 730,347.3 724,356 C718,364.7 709.7,373.8 701,382 C692.3,390.2 680.8,398.1 672,405 C663.2,411.9 656.7,418.3 648,423.5 C639.3,428.7 633.5,430.7 620,436 C606.5,441.3 587,449.3 567,455.5 C547,461.7 527.8,467.8 500,473 C472.2,478.2 430,483.7 400,486.5 C370,489.3 360,488.2 320,490 C280,491.8 196.7,495.8 160,497.5 C123.3,499.2 126.8,499.7 100,500 C73.2,500.3 15.8,499.6 -1,499.5 L-1,555 L961,555 Z" fill="#636363" stroke="#111" stroke-width="1.2"/>
<ellipse cx="216.5" cy="380.5" rx="161" ry="37.5" fill="#a0adaa" stroke="#7d8886" stroke-width="0.8"/>
<path d="M299.6,193.3 L266.7,295.6 L256.6,286.6 Q261.8,306.5 263.4,321.9 Q273.7,310.3 289.5,297.2 L276,298.7 L309,196.3 Z" fill="#4164ad" stroke="#2d4a86" stroke-width="1" stroke-linejoin="round"/>
<path d="M216.2,335.5 L195.5,306.3 L201.8,306.2 Q192.8,302.1 186.4,298.1 Q188.1,305.4 188.9,315.3 L191.1,309.5 L211.8,338.7 Z" fill="#4164ad" stroke="#2d4a86" stroke-width="1" stroke-linejoin="round"/>
<path d="M464.3,192.2 L501,234.4 L495,235 Q504.1,238 510.6,241.3 Q508.2,234.4 506.5,225 L505.1,230.8 L468.5,188.6 Z" fill="#4164ad" stroke="#2d4a86" stroke-width="1" stroke-linejoin="round"/>
<path d="M643.7,168 L600.7,216 L599.5,210.3 Q597.9,219.2 595.7,225.7 Q601.9,222.8 610.5,220.2 L604.7,219.7 L647.7,171.6 Z" fill="#4164ad" stroke="#2d4a86" stroke-width="1" stroke-linejoin="round"/>
<g opacity="0.999">
<text x="91.09" y="375.9" font-size="17.2" textLength="95.2" lengthAdjust="spacingAndGlyphs" opacity="0.999">Dissolved</text>
<text x="192.7" y="375.9" font-size="17.2" textLength="35.56" lengthAdjust="spacingAndGlyphs" opacity="0.999">and</text>
<text x="233.39" y="375.9" font-size="17.2" textLength="109.42" lengthAdjust="spacingAndGlyphs" opacity="0.999">particulate</text>
<text x="145.48" y="397.3" font-size="17.2" textLength="74.38" lengthAdjust="spacingAndGlyphs" opacity="0.999">organic</text>
<text x="225.88" y="397.3" font-size="17.2" textLength="68.44" lengthAdjust="spacingAndGlyphs" opacity="0.999">carbon</text>
<text x="39.53" y="194" font-size="13.8" textLength="97.23" lengthAdjust="spacingAndGlyphs" opacity="0.999">Saprotrophic</text>
<text x="69.09" y="209.7" font-size="13.8" textLength="38.06" lengthAdjust="spacingAndGlyphs" opacity="0.999">fungi</text>
<text x="44.93" y="316.7" font-size="13.8" textLength="110.93" lengthAdjust="spacingAndGlyphs" opacity="0.999">DOC-uptake by</text>
<text x="54.69" y="332.9" font-size="13.8" textLength="91.02" lengthAdjust="spacingAndGlyphs" opacity="0.999">prokaryotes</text>
<text x="443.54" y="119.8" font-size="13" textLength="135.79" lengthAdjust="spacingAndGlyphs" opacity="0.999">Zoospores release</text>
<text x="434.99" y="136" font-size="13" textLength="153.26" lengthAdjust="spacingAndGlyphs" opacity="0.999">from mature chytrids</text>
<text x="498.41" y="212.7" font-size="14.5" textLength="85.84" lengthAdjust="spacingAndGlyphs" opacity="0.999">Mycoloop</text>
<text x="619.21" y="30.1" font-size="13.8" textLength="117.6" lengthAdjust="spacingAndGlyphs" opacity="0.999">Parasitic fungi</text>
<text x="802.82" y="65" font-size="14.2" textLength="66.24" lengthAdjust="spacingAndGlyphs" opacity="0.999">Diatoms</text>
</g>
<rect x="0" y="0" width="960" height="1" fill="#6a6a6a"/><rect x="0" y="0" width="1.3" height="554" fill="#383838"/><rect x="958.8" y="0" width="1.2" height="554" fill="#4a4a4a"/><rect x="0" y="553" width="960" height="1" fill="#505050"/>
</svg>
</body></html>
